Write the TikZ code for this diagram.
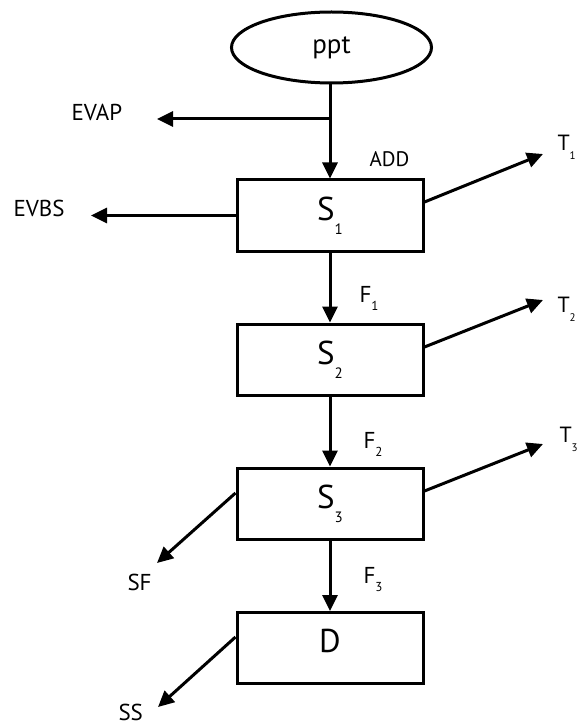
\documentclass[tikz,border=0pt]{standalone}
\usepackage{fontspec}
\setmainfont{PT Sans}
\usetikzlibrary{shapes.geometric,arrows.meta}
\newcommand\Slab[1]{\fontsize{33}{33}\selectfont S\raisebox{-14pt}{\fontsize{15}{15}\selectfont #1}}
\newcommand\Tlab[1]{\fontsize{22}{22}\selectfont T\raisebox{-9pt}{\fontsize{11}{11}\selectfont #1}}
\newcommand\Flab[1]{\fontsize{23}{23}\selectfont F\raisebox{-8pt}{\fontsize{13}{13}\selectfont #1}}
\begin{document}
\begin{tikzpicture}[x=1pt,y=-1pt,
  line width=3pt,
  box/.style={draw, rectangle, minimum width=186pt, minimum height=71pt, inner sep=0pt},
  arr/.style={-{Triangle[length=16pt,width=15pt]}},
  lab/.style={anchor=base west, inner sep=0pt, font=\fontsize{23}{23}\selectfont},
  flab/.style={anchor=base west, inner sep=0pt}]
\useasboundingbox (0,0) rectangle (580,727);
\node[draw, ellipse, minimum width=200pt, minimum height=71pt, inner sep=0pt,
      font=\fontsize{27}{27}\selectfont] (ppt) at (331.5,47.5) {ppt};
\node[box] (S1) at (330,215.5) {\Slab{1}};
\node[box] (S2) at (330,359.5) {\Slab{2}};
\node[box] (S3) at (330,503.5) {\Slab{3}};
\node[box, text depth=14pt, font=\fontsize{33}{33}\selectfont] (D) at (330,648) {D};
% free ends
\coordinate (j) at (330,119);
\coordinate (evapend) at (157,119);
\coordinate (evbsend) at (91,215.5);
\coordinate (t1end) at (543,154);
\coordinate (t2end) at (543,300);
\coordinate (t3end) at (543,444);
\coordinate (sfend) at (157,563);
\coordinate (ssend) at (158,707);
% labels
\node[lab] (evap) at (70,121) {EVAP};
\node[lab] (evbs) at (12,216) {EVBS};
\node[lab, font=\fontsize{21}{21}\selectfont] (add) at (368,167) {ADD};
\node[lab] (sf) at (126,590) {SF};
\node[lab] (ss) at (117,720) {SS};
\node[flab] (t1) at (556,151) {\Tlab{1}};
\node[flab] (t2) at (556,312) {\Tlab{2}};
\node[flab] (t3) at (558,442) {\Tlab{3}};
\node[flab] (f1) at (358,302) {\Flab{1}};
\node[flab] (f2) at (362,448) {\Flab{2}};
\node[flab] (f3) at (362,583) {\Flab{3}};
% connectors
\draw[arr] (S1.north |- ppt.south) -- (S1.north);
\draw[arr] (j) -- (evapend);
\draw[arr] (S1.west) -- (evbsend);
\draw[arr] ([yshift=13.5pt]S1.east) -- (t1end);
\draw[arr] (S1.south) -- (S2.north);
\draw[arr] ([yshift=12.5pt]S2.east) -- (t2end);
\draw[arr] (S2.south) -- (S3.north);
\draw[arr] ([yshift=12.5pt]S3.east) -- (t3end);
\draw[arr] ([yshift=10.5pt]S3.west) -- (sfend);
\draw[arr] (S3.south) -- (D.north);
\draw[arr] ([yshift=11pt]D.west) -- (ssend);
\end{tikzpicture}
\end{document}
